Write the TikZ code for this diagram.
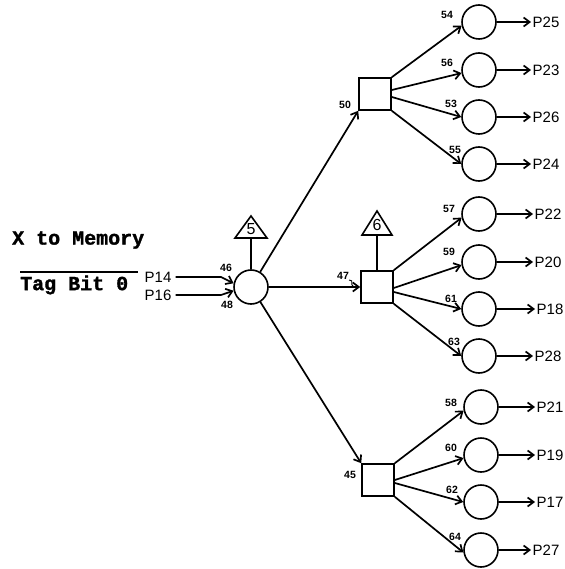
\documentclass[tikz,border=0pt]{standalone}
\usepackage{fontspec}
\setmainfont{Liberation Sans}
\newfontfamily\monob[BoldFeatures={FakeBold=1.5}]{Liberation Mono}
\usetikzlibrary{arrows.meta,calc}
\tikzset{
  ln/.style={line width=1.7pt},
  arr/.style={line width=1.7pt, -{Straight Barb[length=6pt,width=9pt]}},
  gate/.style={circle, draw, line width=1.6pt, minimum size=34pt, inner sep=0pt},
  sq/.style={draw, line width=1.6pt, minimum size=32pt, inner sep=0pt},
  num/.style={font=\fontsize{10.5}{10.5}\selectfont\bfseries, inner sep=0pt},
  plab/.style={font=\fontsize{15}{15}\selectfont, anchor=west, inner sep=1.5pt},
  tri/.style={draw, line width=1.6pt, line join=miter},
  trilab/.style={font=\fontsize{16}{16}\selectfont, inner sep=0pt},
  title/.style={font=\monob\bfseries\fontsize{20}{20}\selectfont, anchor=west, inner sep=0pt},
}
\begin{document}
\begin{tikzpicture}[x=1pt,y=-1pt]
\useasboundingbox (0,0) rectangle (564,569);

% main gate and triangle 5
\node[gate] (c0) at (251,287) {};
\draw[tri] (251,216) -- (267,238) -- (235,238) -- cycle;
\coordinate (t5) at (251,238);
\node[trilab] (l5) at (251,229) {5};
\draw[ln] (t5) -- (c0);

% squares
\node[sq] (s50) at (375,94) {};
\node[sq] (s47) at (377,287) {};
\node[sq] (s45) at (378,480) {};
\draw[tri] (377,211) -- (392,235) -- (362,235) -- cycle;
\coordinate (t6) at (377,235);
\node[trilab] (l6) at (377,225) {6};
\draw[ln] (t6) -- (s47);

% input side
\node[title] (xm) at (12,240) {X to Memory};
\node[title] (tb) at (20,285) {Tag Bit 0};
\draw[ln] (20,272) -- (138,272);
\node[font=\fontsize{15}{15}\selectfont, inner sep=0pt] (p14) at (158,277) {P14};
\node[font=\fontsize{15}{15}\selectfont, inner sep=0pt] (p16) at (158,295) {P16};
\draw[arr] (p14.east) ++(4,0) -- (221,277) -- (c0.168);
\draw[arr] (p16.east) ++(4,0) -- (221,295) -- (c0.192);
\node[num] (n46) at (226,268) {46};
\node[num] (n48) at (227,305) {48};

% gate to squares
\draw[arr] (c0) -- (s50.south west);
\draw[arr] (c0) -- (s47.west);
\draw[arr] (c0) -- (s45.north west);
\node[num] (n50) at (345,105) {50};
\node[num] (n47) at (343,276) {47};
\draw[line width=0.9pt] (349,280) .. controls (355,280) and (349,285) .. (354,287);
\node[num] (n45) at (350,475) {45};

% output gates
\foreach \i/\x/\y/\p/\n/\nx/\ny/\ox in {
  1/479/22/P25/54/447/15/531,
  2/479/70/P23/56/447/63/531,
  3/479/117/P26/53/451/104/531,
  4/479/164/P24/55/455/150/531,
  5/479/214/P22/57/449/209/533,
  6/479/262/P20/59/449/252/533,
  7/479/309/P18/61/451/299/535,
  8/479/356/P28/63/454/342/533,
  9/481/407/P21/58/451/403/535,
  10/481/455/P19/60/451/448/535,
  11/481/502/P17/62/452/490/535,
  12/481/550/P27/64/455/537/531}{
  \node[gate] (c\i) at (\x,\y) {};
  \node[plab] (o\i) at (\ox,\y) {\p};
  \draw[arr] (c\i) -- (o\i.west);
  \node[num] (n\n) at (\nx,\ny) {\n};
}

% square to gates
\draw[arr] (s50.north east) -- (c1.192);
\draw[arr] ($(s50.east)+(0,-4)$) -- (c2.190);
\draw[arr] ($(s50.east)+(0,3)$) -- (c3.west);
\draw[arr] (s50.south east) -- (c4.west);

\draw[arr] (s47.north east) -- (c5.192);
\draw[arr] ($(s47.east)+(0,1)$) -- (c6.190);
\draw[arr] ($(s47.east)+(0,5)$) -- (c7.west);
\draw[arr] (s47.south east) -- (c8.west);

\draw[arr] (s45.north east) -- (c9.192);
\draw[arr] ($(s45.east)+(0,0)$) -- (c10.190);
\draw[arr] ($(s45.east)+(0,3)$) -- (c11.west);
\draw[arr] (s45.south east) -- (c12.188);
\end{tikzpicture}
\end{document}
